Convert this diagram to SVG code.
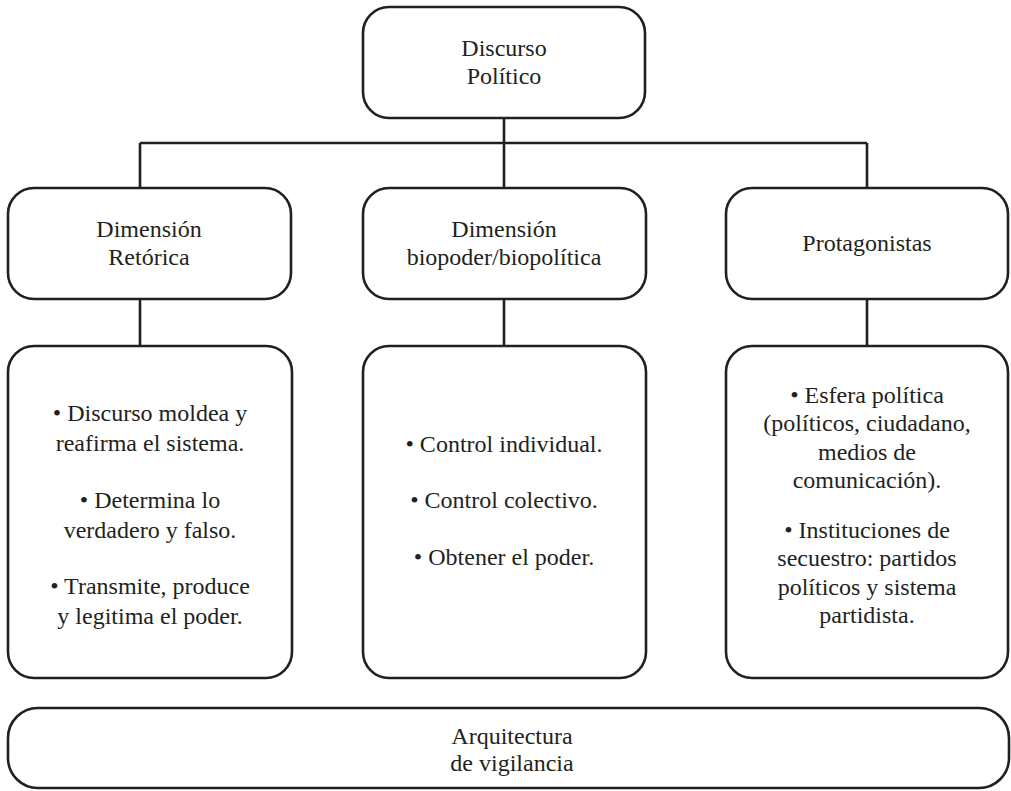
<svg xmlns="http://www.w3.org/2000/svg" width="1011" height="791" viewBox="0 0 1011 791">
<style>
.box{fill:#fff;stroke:#231f20;stroke-width:2.6}
.ln{stroke:#231f20;stroke-width:2.6;fill:none}
text{font-family:"Liberation Serif","Times New Roman",serif;font-size:24px;fill:#231f20;text-anchor:middle}
</style>
<rect width="1011" height="791" fill="#fff"/>
<g id="connectors">
<path class="ln" d="M504 118V188M140 143H867M140 143V188M867 143V188M140 299V346M504 299V346M867 299V346"/>
</g>
<g id="discurso">
<rect class="box" x="363" y="7" width="282" height="111" rx="26"/>
<text x="504" y="56">Discurso</text>
<text x="504" y="84">Político</text>
</g>
<g id="retorica">
<rect class="box" x="8" y="188" width="283" height="111" rx="26"/>
<text x="149" y="237">Dimensión</text>
<text x="149" y="265">Retórica</text>
</g>
<g id="biopoder">
<rect class="box" x="363" y="188" width="283" height="111" rx="26"/>
<text x="504" y="237">Dimensión</text>
<text x="504" y="265">biopoder/biopolítica</text>
</g>
<g id="protagonistas">
<rect class="box" x="726" y="188" width="282" height="111" rx="26"/>
<text x="867" y="251">Protagonistas</text>
</g>
<g id="retorica-items">
<rect class="box" x="8" y="346" width="284" height="332" rx="26"/>
<text x="150" y="421">• Discurso moldea y</text>
<text x="150" y="451">reafirma el sistema.</text>
<text x="150" y="508">• Determina lo</text>
<text x="150" y="538">verdadero y falso.</text>
<text x="150" y="594">• Transmite, produce</text>
<text x="150" y="624">y legitima el poder.</text>
</g>
<g id="biopoder-items">
<rect class="box" x="363" y="346" width="283" height="332" rx="26"/>
<text x="504" y="452">• Control individual.</text>
<text x="504" y="508">• Control colectivo.</text>
<text x="504" y="565">• Obtener el poder.</text>
</g>
<g id="protagonistas-items">
<rect class="box" x="726" y="346" width="282" height="332" rx="26"/>
<text x="867" y="403">• Esfera política</text>
<text x="867" y="431">(políticos, ciudadano,</text>
<text x="867" y="460">medios de</text>
<text x="867" y="488">comunicación).</text>
<text x="867" y="538">• Instituciones de</text>
<text x="867" y="566">secuestro: partidos</text>
<text x="867" y="595">políticos y sistema</text>
<text x="867" y="623">partidista.</text>
</g>
<g id="arquitectura">
<rect class="box" x="8" y="708" width="1001" height="80" rx="30"/>
<text x="512" y="744">Arquitectura</text>
<text x="512" y="771">de vigilancia</text>
</g>
</svg>
